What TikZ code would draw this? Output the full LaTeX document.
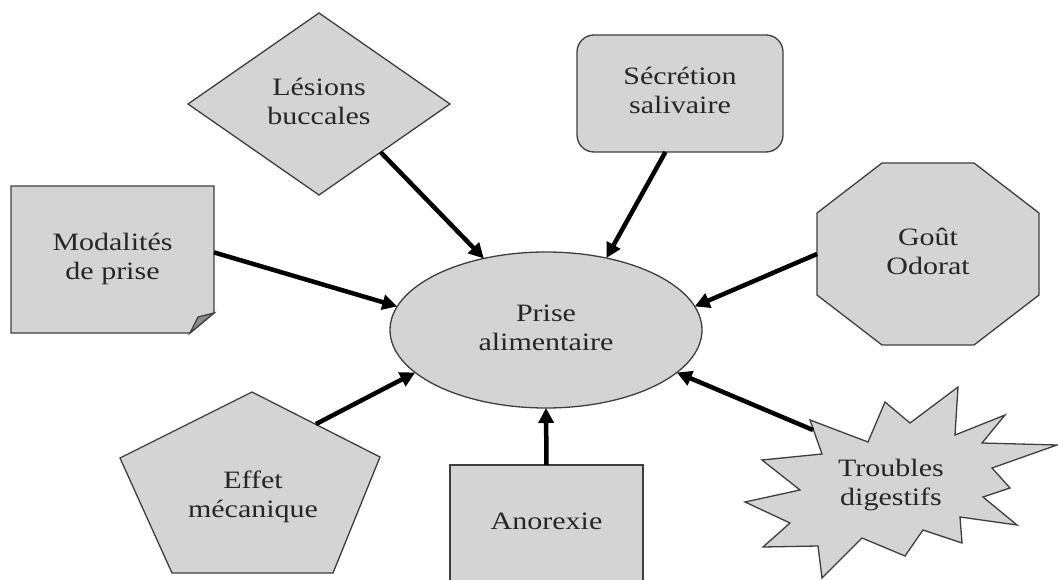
\documentclass[tikz,border=0pt]{standalone}
\usepackage{fontspec}
\setmainfont{Liberation Serif}
\usepackage{graphicx}
\usetikzlibrary{shapes.geometric,arrows.meta,backgrounds}

\definecolor{boxfill}{RGB}{212,212,212}
\definecolor{boxline}{RGB}{62,62,62}
\definecolor{boxtext}{RGB}{38,38,38}

\newcommand{\lbl}[1]{\scalebox{1.2}[1]{\begin{tabular}{@{}c@{}}#1\end{tabular}}}

\tikzset{
  shp/.style={fill=boxfill, draw=boxline, line width=1.3pt},
  lbltext/.style={text=boxtext, font=\fontsize{25}{29}\selectfont, inner sep=0pt, outer sep=0pt},
  cause/.style={lbltext, shp},
  feed/.style={-{Triangle[length=15pt,width=15pt]}, line width=4.5pt, black}
}

\begin{document}
\begin{tikzpicture}[x=1pt, y=-1pt]
\useasboundingbox (0,0) rectangle (1058,580);

\node[cause, ellipse, minimum width=312pt, minimum height=156pt] (prise) at (546,330) {\lbl{Prise\\alimentaire}};

\node[cause, diamond, minimum width=262pt, minimum height=182pt]                    (lesions)   at (319,104)   {\lbl{Lésions\\buccales}};
\node[cause, rectangle, rounded corners=17pt, minimum width=206pt, minimum height=117pt] (secretion) at (680,93.5)  {\lbl{Sécrétion\\salivaire}};
\node[cause, rectangle, minimum width=193pt, minimum height=117pt]                  (anorexie)  at (546.5,523.5) {\lbl{Anorexie}};
\node[lbltext, minimum width=203pt, minimum height=147pt]                           (modalites) at (112.5,259.5) {\lbl{Modalités\\de prise}};
\node[lbltext, minimum width=222pt, minimum height=182pt]                           (gout)      at (928,254)   {\lbl{Goût\\Odorat}};
\node[lbltext]                                                                      (effet)     at (253,497)   {\lbl{Effet\\mécanique}};
\node[lbltext]                                                                      (troubles)  at (891,485)   {\lbl{Troubles\\digestifs}};

\coordinate (effet-out)    at (316,424);
\coordinate (troubles-out) at (813,430);

% shapes drawn by hand, behind the texts
\begin{scope}[on background layer]
  % folded sheet
  \draw[shp] (11,186) -- (214,186) -- (214,313) -- (190,333) -- (11,333) -- cycle;
  \draw[shp, fill=boxfill!65!black] (214,313) -- (198,317) -- (190,333) -- cycle;
  % octagon
  \draw[shp] (882,163) -- (974,163) -- (1039,213) -- (1039,295) -- (974,345) -- (882,345) -- (817,295) -- (817,213) -- cycle;
  % pentagon
  \draw[shp] (252,392) -- (380,457) -- (333,573) -- (172,573) -- (120,458) -- cycle;
  % starburst
  \draw[shp] (810,420) -- (868,442) -- (885,402) -- (910,423) -- (958,387) -- (955,435)
    -- (1005,415) -- (982,443) -- (1057,445) -- (992,468) -- (1010,488) -- (983,497)
    -- (1017,525) -- (960,517) -- (962,543) -- (923,530) -- (905,556) -- (862,538)
    -- (822,578) -- (818,546) -- (763,547) -- (790,523) -- (745,502) -- (800,490)
    -- (762,460) -- (822,454) -- cycle;
\end{scope}

\draw[feed] (lesions.-38)   -- (prise.131);
\draw[feed] (secretion.256) -- (prise.50);
\draw[feed] (modalites.4)   -- (prise.171);
\draw[feed] (gout.west)     -- (prise.9);
\draw[feed] (effet-out)     -- (prise.198);
\draw[feed] (anorexie.north) -- (prise.south);
\draw[feed] (troubles-out)  -- (prise.342);
\end{tikzpicture}
\end{document}
